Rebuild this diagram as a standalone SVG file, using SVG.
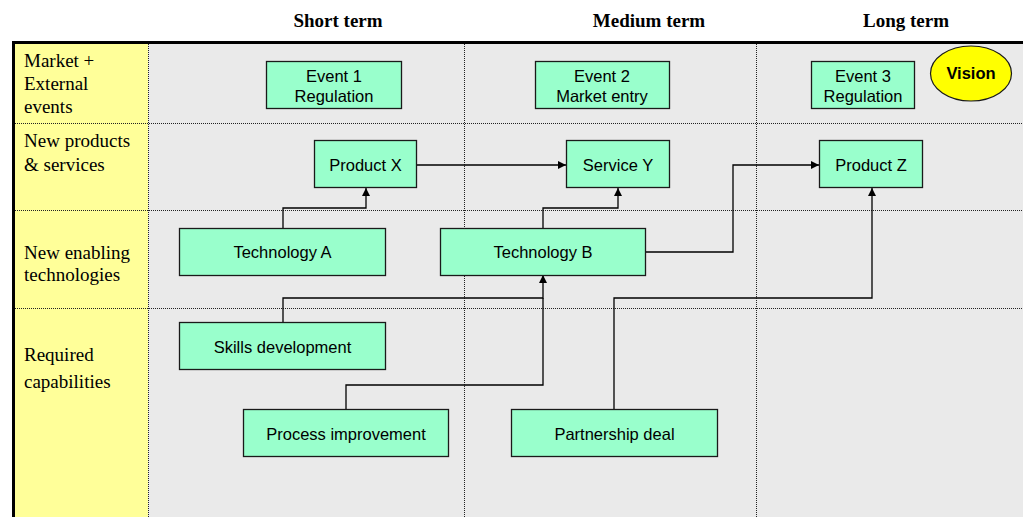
<svg xmlns="http://www.w3.org/2000/svg" width="1023" height="517" viewBox="0 0 1023 517">
  <style>
    .hdr { font-family: "Liberation Serif", "Times New Roman", serif; font-weight: bold; font-size: 19px; fill: #000; text-anchor: middle; }
    .lane { font-family: "Liberation Serif", "Times New Roman", serif; font-size: 19px; fill: #000; }
    .box { fill: #99FFCC; stroke: #1a1a1a; stroke-width: 1.3; }
    .lbl { font-family: "Liberation Sans", Arial, sans-serif; font-size: 16.5px; fill: #000; text-anchor: middle; }
    .grid { stroke: #222; stroke-width: 1; stroke-dasharray: 1 1; fill: none; }
    .link { fill: none; stroke: #000; stroke-width: 1.3; }
  </style>
  <defs>
    <marker id="arrow" viewBox="0 0 10 10" refX="10" refY="5" markerUnits="userSpaceOnUse" markerWidth="9" markerHeight="8" orient="auto">
      <path d="M0,0 L10,5 L0,10 z" fill="#000"/>
    </marker>
  </defs>

  <rect x="0" y="0" width="1023" height="517" fill="#fff"/>

  <!-- column headers -->
  <text class="hdr" x="338" y="27">Short term</text>
  <text class="hdr" x="649" y="27">Medium term</text>
  <text class="hdr" x="906" y="27">Long term</text>

  <!-- lanes background -->
  <rect x="15" y="43" width="133" height="474" fill="#FFFF99"/>
  <rect x="148" y="43" width="875" height="474" fill="#EAEAEA"/>

  <!-- grid -->
  <g id="grid">
    <line class="grid" x1="15" y1="123.5" x2="1023" y2="123.5"/>
    <line class="grid" x1="15" y1="210.5" x2="1023" y2="210.5"/>
    <line class="grid" x1="15" y1="308.5" x2="1023" y2="308.5"/>
    <line class="grid" x1="148.5" y1="44" x2="148.5" y2="517"/>
    <line class="grid" x1="464.5" y1="44" x2="464.5" y2="517"/>
    <line class="grid" x1="756.5" y1="44" x2="756.5" y2="517"/>
  </g>

  <!-- frame -->
  <line x1="12" y1="42.5" x2="1023" y2="42.5" stroke="#000" stroke-width="3"/>
  <line x1="13.5" y1="41" x2="13.5" y2="517" stroke="#000" stroke-width="3"/>

  <!-- lane labels -->
  <g id="lane-labels">
    <text class="lane" x="24" y="67">Market +</text>
    <text class="lane" x="24" y="90">External</text>
    <text class="lane" x="24" y="113">events</text>
    <text class="lane" x="24" y="147">New products</text>
    <text class="lane" x="24" y="171">&amp; services</text>
    <text class="lane" x="24" y="259">New enabling</text>
    <text class="lane" x="24" y="281">technologies</text>
    <text class="lane" x="24" y="361">Required</text>
    <text class="lane" x="24" y="388">capabilities</text>
  </g>

  <!-- connectors -->
  <g id="connectors">
    <path class="link" d="M283,228 V208 H366 V188" marker-end="url(#arrow)"/>
    <path class="link" d="M417,165 H566" marker-end="url(#arrow)"/>
    <path class="link" d="M543,228 V208 H618 V188" marker-end="url(#arrow)"/>
    <path class="link" d="M646,252 H733 V165 H819" marker-end="url(#arrow)"/>
    <path class="link" d="M283,322 V298 H543 V275" marker-end="url(#arrow)"/>
    <path class="link" d="M346,409 V385 H543 V298"/>
    <path class="link" d="M614,409 V298 H872 V188" marker-end="url(#arrow)"/>
  </g>

  <!-- nodes -->
  <g id="event1">
    <rect class="box" x="266.5" y="61.5" width="135" height="47"/>
    <text class="lbl" x="334" y="82">Event 1</text>
    <text class="lbl" x="334" y="102">Regulation</text>
  </g>
  <g id="event2">
    <rect class="box" x="535.5" y="61.5" width="134" height="47"/>
    <text class="lbl" x="602" y="82">Event 2</text>
    <text class="lbl" x="602" y="102">Market entry</text>
  </g>
  <g id="event3">
    <rect class="box" x="811.5" y="61.5" width="103" height="47"/>
    <text class="lbl" x="863" y="82">Event 3</text>
    <text class="lbl" x="863" y="102">Regulation</text>
  </g>
  <g id="vision">
    <ellipse cx="971" cy="73.5" rx="40.5" ry="27.5" fill="#FFFF00" stroke="#1a1a1a" stroke-width="1.2"/>
    <text class="lbl" x="971" y="79" font-weight="bold">Vision</text>
  </g>
  <g id="product-x">
    <rect class="box" x="314.5" y="140.5" width="102" height="47"/>
    <text class="lbl" x="365.5" y="171">Product X</text>
  </g>
  <g id="service-y">
    <rect class="box" x="566.5" y="140.5" width="103" height="47"/>
    <text class="lbl" x="618" y="171">Service Y</text>
  </g>
  <g id="product-z">
    <rect class="box" x="819.5" y="140.5" width="103" height="47"/>
    <text class="lbl" x="871" y="171">Product Z</text>
  </g>
  <g id="technology-a">
    <rect class="box" x="179.5" y="228.5" width="206" height="47"/>
    <text class="lbl" x="282.5" y="258">Technology A</text>
  </g>
  <g id="technology-b">
    <rect class="box" x="440.5" y="228.5" width="205" height="47"/>
    <text class="lbl" x="543" y="258">Technology B</text>
  </g>
  <g id="skills-development">
    <rect class="box" x="179.5" y="322.5" width="206" height="47"/>
    <text class="lbl" x="282.5" y="353">Skills development</text>
  </g>
  <g id="process-improvement">
    <rect class="box" x="243.5" y="409.5" width="205" height="47"/>
    <text class="lbl" x="346" y="440">Process improvement</text>
  </g>
  <g id="partnership-deal">
    <rect class="box" x="511.5" y="409.5" width="206" height="47"/>
    <text class="lbl" x="614.5" y="440">Partnership deal</text>
  </g>
</svg>
